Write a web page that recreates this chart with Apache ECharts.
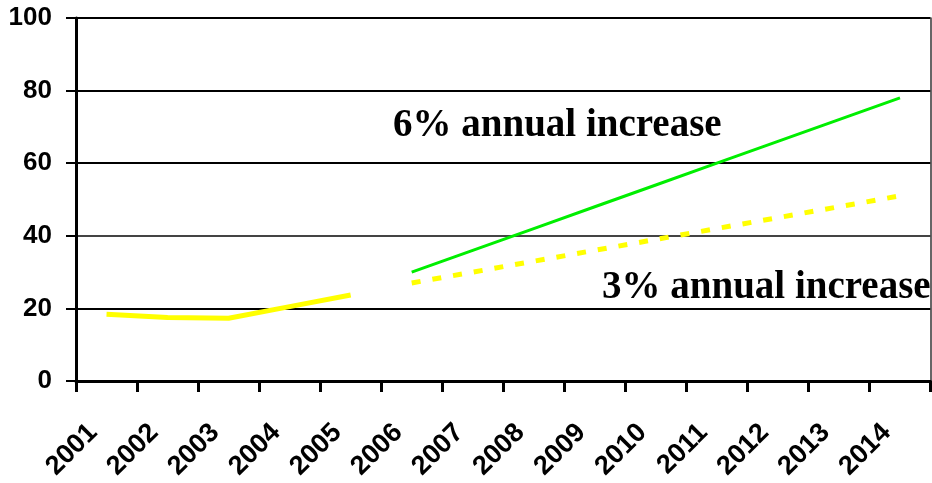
<!DOCTYPE html>
<html>
<head>
<meta charset="utf-8">
<script src="https://cdn.jsdelivr.net/npm/echarts@6/dist/echarts.min.js"></script>
<style>
html,body{margin:0;padding:0;background:#fff;}
#chart{width:932px;height:483px;}
</style>
</head>
<body>
<div id="chart"></div>
<script>
const years = ['2001','2002','2003','2004','2005','2006','2007','2008','2009','2010','2011','2012','2013','2014'];
const yTicks = [0, 20, 40, 60, 80, 100];
const historical = [18.4, 17.5, 17.3, 20.5, 23.7, null, null, null, null, null, null, null, null, null];
const increase6 = [null, null, null, null, null, 30, 36, 42, 48, 54, 60, 66, 72, 78];
const increase3 = [null, null, null, null, null, 27, 30, 33, 36, 39, 42, 45, 48, 51];
const label6 = '6% annual increase';
const label3 = '3% annual increase';

const chart = echarts.init(document.getElementById('chart'));
const fam = 'Liberation Sans, Arial, sans-serif';
chart.setOption({
  animation: false,
  backgroundColor: '#fff',
  grid: {left: 76, top: 18, right: 1.5, bottom: 102, containLabel: false},
  xAxis: {
    type: 'category',
    data: years,
    boundaryGap: true,
    axisLine: {show: true, onZero: false, lineStyle: {color: '#000', width: 3}},
    axisTick: {show: true, length: 11, lineStyle: {color: '#000', width: 3}},
    axisLabel: {
      interval: 0, rotate: 45, margin: 34,
      formatter: function (v) { return '{p|' + v + '}'; },
      rich: {p: {fontFamily: fam, fontWeight: 'bold', fontSize: 27, color: '#000', padding: [0, 19, 0, 0]}}
    },
    splitLine: {show: false}
  },
  yAxis: [{
    type: 'value',
    min: yTicks[0],
    max: yTicks[yTicks.length - 1],
    interval: 20,
    axisLine: {show: true, lineStyle: {color: '#000', width: 3}},
    axisTick: {show: true, length: 10, lineStyle: {color: '#000', width: 2}},
    axisLabel: {margin: 24, fontFamily: fam, fontWeight: 'bold', fontSize: 26, color: '#000'},
    splitLine: {show: true, lineStyle: {color: ['#000', '#000', '#444', '#000', '#000', '#000'], width: 2}}
  }, {
    type: 'value',
    position: 'right',
    min: yTicks[0],
    max: yTicks[yTicks.length - 1],
    interval: 20,
    axisLine: {show: true, lineStyle: {color: '#333', width: 1.5}},
    axisTick: {show: false},
    axisLabel: {show: false},
    splitLine: {show: false}
  }],
  series: [
    {
      type: 'line', data: historical, symbol: 'none', connectNulls: false,
      lineStyle: {color: '#ffff00', width: 5}, z: 3
    },
    {
      type: 'line', data: increase6, symbol: 'none',
      lineStyle: {color: '#00ee00', width: 3}, z: 3
    },
    {
      type: 'line', data: increase3, symbol: 'none',
      lineStyle: {color: '#ffff00', width: 5, type: [9, 12], cap: 'butt'}, z: 3
    }
  ],
  graphic: [
    {
      type: 'text', left: 393, top: 106, z: 10,
      style: {text: label6, fill: '#000', font: 'bold 39px "Liberation Serif", "Times New Roman", serif'}
    },
    {
      type: 'text', left: 602, top: 268, z: 10,
      style: {text: label3, fill: '#000', font: 'bold 39px "Liberation Serif", "Times New Roman", serif'}
    }
  ]
});
</script>
</body>
</html>
